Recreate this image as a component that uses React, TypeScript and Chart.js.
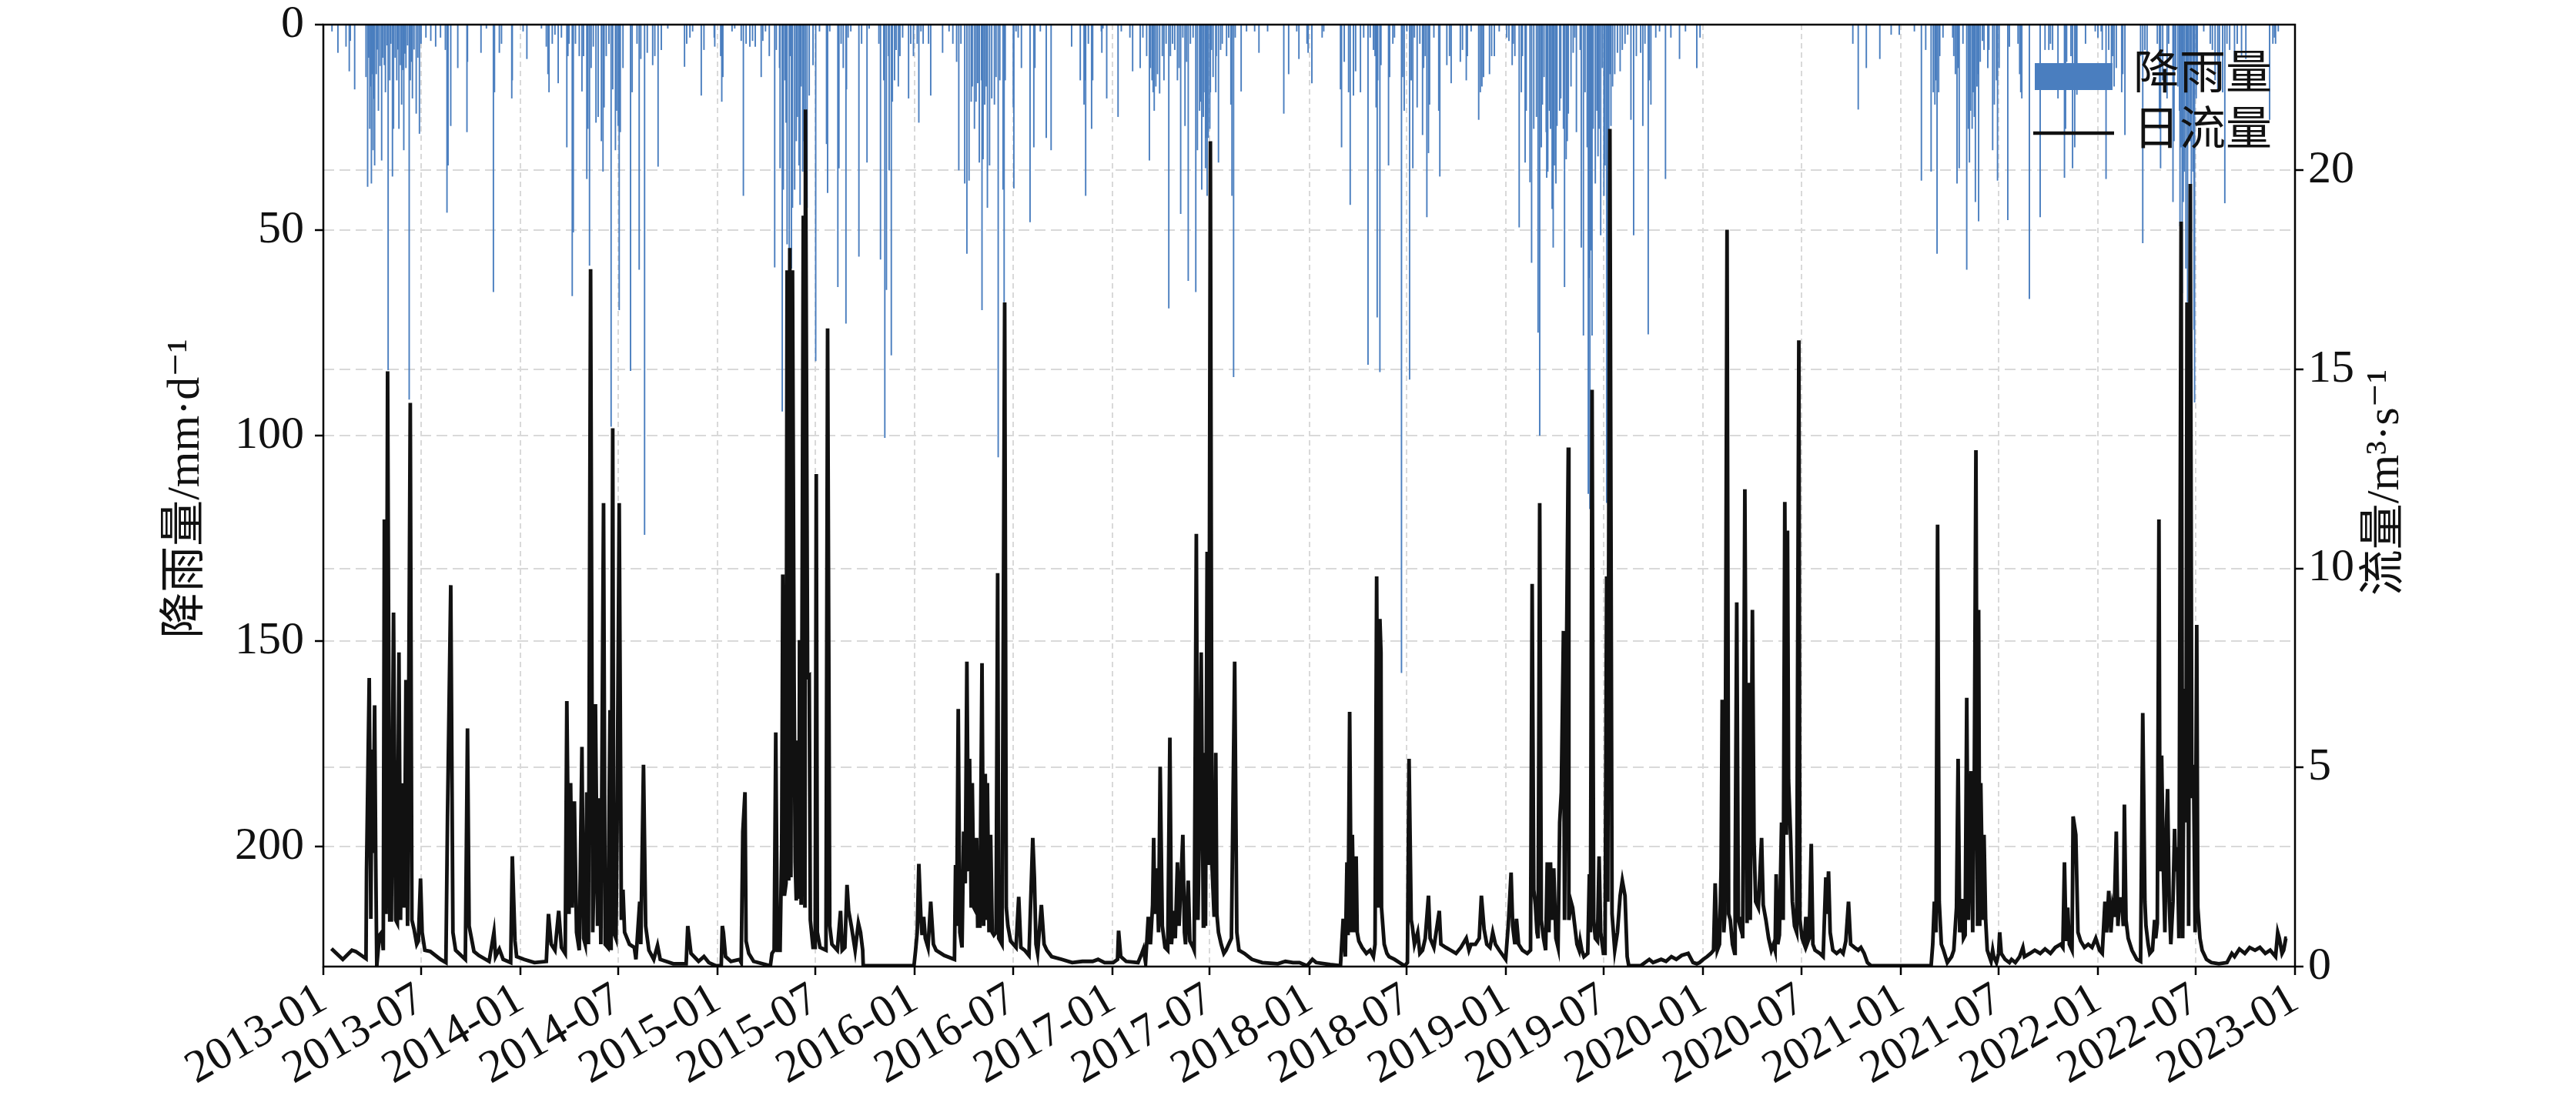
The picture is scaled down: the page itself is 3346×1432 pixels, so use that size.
import React, { useEffect, useRef } from 'react';
import { Chart, registerables } from 'chart.js';

Chart.register(...registerables);

// ---------------- DATA ----------------
// daily flow (m3/s): [day of year (0 = Jan 1), value]
const flow2013 = [[15,0.45],[36,0.18],[53,0.41],[60,0.38],[79,0.2],[80,2.39],[85,7.25],[88,1.2],[90,5.45],[92,2.85],[95,6.56],[97,2.7],[99,0.02],[104,0.79],[108,0.86],[111,0.41],[113,11.23],[116,1.32],[119,14.95],[123,1.17],[126,1.17],[130,8.89],[134,1.17],[137,1.09],[140,7.89],[143,1.17],[145,4.56],[149,4.56],[150,1.48],[153,7.2],[156,1.02],[161,14.16],[164,1.17],[168,0.94],[173,0.56],[176,0.64],[180,2.21],[183,0.86],[188,0.41],[198,0.38],[217,0.18],[227,0.1],[230,3.77],[236,9.58],[240,0.86],[245,0.41],[263,0.18],[267,5.98],[270,1.02],[279,0.38],[288,0.28],[307,0.13],[316,0.86],[319,0.25],[326,0.44],[333,0.18],[347,0.1],[350,2.77],[355,0.64],[358,0.25]];
const flow2014 = [[7,0.18],[26,0.1],[48,0.13],[52,1.32],[57,0.56],[64,0.41],[71,1.4],[76,0.48],[83,0.33],[86,6.67],[90,1.32],[93,4.61],[96,1.48],[100,4.15],[104,0.86],[109,0.41],[114,5.52],[117,0.71],[120,0.56],[123,4.38],[126,0.56],[130,17.52],[134,0.86],[136,2.16],[139,6.59],[143,1.02],[146,4.23],[149,0.56],[154,11.64],[157,0.56],[162,0.48],[166,6.44],[168,0.41],[171,13.52],[173,0.86],[177,0.71],[179,3.39],[183,11.64],[187,1.17],[190,1.93],[193,0.86],[202,0.56],[211,0.48],[214,0.18],[221,1.63],[223,0.56],[228,5.07],[232,1.02],[238,0.41],[247,0.18],[254,0.53],[259,0.18],[283,0.07],[307,0.07],[310,1.02],[316,0.33],[330,0.13],[340,0.25],[349,0.1],[362,0.02]];
const flow2015 = [[7,0.02],[9,1.02],[11,0.86],[15,0.25],[25,0.13],[41,0.18],[44,0.1],[47,3.39],[51,4.38],[53,0.64],[58,0.33],[67,0.13],[98,0.02],[101,0.33],[105,0.41],[108,5.88],[111,0.41],[116,0.41],[119,3.0],[121,9.85],[124,1.78],[127,2.09],[129,17.49],[132,2.16],[134,18.05],[136,2.24],[139,17.49],[142,7.13],[144,2.62],[146,1.66],[148,5.68],[151,1.7],[152,8.2],[155,1.55],[159,18.86],[162,1.48],[163,21.53],[167,7.28],[170,7.31],[172,1.17],[177,0.48],[181,0.48],[183,12.37],[185,0.86],[190,0.48],[201,0.41],[204,16.03],[208,1.02],[212,0.56],[222,0.41],[228,1.4],[231,0.41],[236,0.48],[240,2.05],[243,1.4],[248,1.02],[255,0.41],[261,1.09],[265,0.86],[269,0.41],[270,0.02],[364,0.02]];
const flow2016 = [[0,0.02],[2,0.41],[5,0.86],[8,2.58],[12,1.17],[14,0.79],[17,1.25],[20,0.71],[25,0.48],[30,1.63],[35,0.56],[40,0.41],[55,0.28],[74,0.18],[76,2.55],[78,1.02],[81,6.47],[84,0.86],[88,0.48],[91,3.39],[94,2.09],[97,7.66],[100,2.39],[102,5.22],[105,1.48],[107,4.61],[110,1.48],[113,1.4],[115,3.23],[117,1.02],[121,1.02],[125,7.62],[128,1.02],[131,4.84],[134,1.17],[135,4.61],[138,0.86],[141,3.31],[144,0.86],[147,0.79],[151,0.86],[154,9.88],[156,0.71],[162,0.56],[167,16.68],[170,1.48],[173,1.02],[178,0.64],[183,0.56],[188,0.48],[193,1.75],[197,0.48],[204,0.41],[212,0.28],[219,3.23],[222,2.24],[225,0.56],[228,0.33],[235,1.55],[240,0.56],[245,0.41],[254,0.25],[273,0.18],[292,0.1],[311,0.13],[330,0.13],[340,0.18],[352,0.1]];
const flow2017 = [[2,0.1],[10,0.18],[12,0.9],[16,0.25],[26,0.13],[48,0.1],[55,0.33],[58,0.44],[62,0.1],[67,1.25],[71,0.56],[75,1.55],[77,3.23],[79,1.32],[83,2.47],[86,0.86],[89,5.02],[93,1.02],[98,0.48],[103,0.41],[107,5.75],[110,0.56],[114,1.4],[117,0.71],[121,2.62],[124,1.02],[127,1.93],[131,3.31],[134,0.86],[136,0.56],[141,2.16],[144,0.64],[150,0.48],[152,0.41],[156,10.87],[159,1.17],[162,3.77],[165,7.89],[169,1.02],[170,5.37],[173,1.02],[176,10.42],[179,2.55],[182,20.73],[185,2.55],[189,1.25],[192,5.37],[194,1.32],[197,0.86],[202,0.56],[207,0.33],[211,0.41],[216,0.56],[221,0.71],[227,7.66],[231,0.86],[235,0.41],[245,0.33],[259,0.18],[278,0.1],[307,0.07],[321,0.13],[335,0.1],[347,0.1],[361,0.02]];
const flow2018 = [[6,0.18],[13,0.1],[39,0.05],[58,0.02],[63,1.2],[67,0.25],[70,2.62],[72,0.79],[75,6.4],[78,0.86],[80,3.31],[83,0.86],[87,2.77],[89,0.86],[92,0.64],[98,0.48],[106,0.33],[113,0.41],[119,0.25],[122,0.56],[125,9.8],[128,1.48],[131,8.73],[133,7.89],[134,1.48],[139,0.56],[144,0.33],[148,0.25],[158,0.18],[167,0.1],[177,0.02],[182,0.1],[185,5.22],[189,1.17],[191,1.02],[195,0.56],[201,0.86],[205,0.33],[210,0.41],[215,0.71],[221,1.78],[224,0.71],[231,0.48],[241,1.4],[244,0.56],[253,0.48],[262,0.41],[272,0.33],[281,0.48],[291,0.71],[296,0.41],[300,0.56],[308,0.56],[315,0.71],[319,1.78],[324,0.94],[329,0.56],[335,0.48],[340,0.86],[345,0.56],[352,0.41],[364,0.18]];
const flow2019 = [[4,1.09],[9,2.36],[12,1.02],[16,0.56],[19,1.2],[23,0.56],[30,0.41],[39,0.33],[45,0.41],[48,9.61],[51,1.93],[54,1.55],[57,0.86],[59,0.71],[62,11.64],[65,1.17],[69,0.71],[73,0.41],[76,2.62],[79,0.86],[82,2.62],[85,1.17],[88,2.47],[92,0.71],[96,0.48],[99,3.62],[102,4.38],[106,8.43],[108,1.17],[112,8.35],[115,13.04],[116,1.17],[120,1.63],[123,1.48],[127,1.02],[131,0.56],[135,0.41],[137,0.64],[140,0.41],[144,0.25],[151,0.33],[154,2.32],[156,0.86],[159,14.49],[162,1.17],[165,0.71],[169,0.64],[172,2.77],[175,0.86],[180,0.33],[183,0.33],[186,9.8],[188,1.63],[192,21.04],[196,1.32],[201,0.41],[206,0.86],[211,1.78],[215,2.16],[220,1.78],[224,0.25],[227,0.02],[249,0.02],[265,0.18],[272,0.1],[287,0.18],[296,0.13],[306,0.25],[315,0.18],[325,0.28],[337,0.33],[346,0.1],[353,0.07],[358,0.1]];
const flow2020 = [[0,0.18],[7,0.25],[14,0.33],[19,0.41],[22,2.09],[26,0.41],[30,0.56],[33,2.47],[35,6.7],[38,0.86],[40,1.32],[44,18.51],[47,1.32],[50,1.17],[54,0.56],[58,0.33],[59,2.09],[62,9.15],[65,1.17],[68,1.02],[70,1.25],[73,0.71],[77,11.99],[81,1.09],[84,7.13],[87,1.17],[91,8.96],[94,3.16],[97,1.63],[102,1.48],[108,3.23],[111,1.55],[116,1.17],[121,0.71],[126,0.41],[130,0.56],[133,0.41],[135,2.32],[138,0.56],[141,0.79],[145,3.62],[148,1.17],[151,11.67],[154,3.31],[156,10.95],[158,4.68],[162,3.16],[165,1.63],[169,1.02],[173,0.86],[177,15.73],[179,1.17],[183,0.71],[187,0.56],[190,1.25],[192,0.56],[196,0.71],[200,3.08],[203,0.56],[207,0.41],[216,0.33],[222,0.25],[227,2.24],[229,1.32],[232,2.39],[235,0.86],[240,0.41],[247,0.33],[254,0.41],[259,0.33],[264,0.64],[269,1.63],[273,0.56],[280,0.48],[287,0.41],[292,0.48],[298,0.33],[304,0.1],[311,0.02],[365,0.02]];
const flow2021 = [[0,0.02],[56,0.02],[59,0.56],[62,1.63],[65,0.86],[68,11.1],[71,1.63],[75,0.56],[79,0.41],[86,0.1],[94,0.25],[98,0.41],[103,1.48],[106,5.22],[109,0.86],[113,1.7],[116,0.71],[119,0.79],[122,6.75],[125,1.17],[127,2.7],[130,4.91],[133,0.86],[136,4.68],[139,12.97],[142,1.02],[144,8.96],[146,1.02],[148,4.61],[152,1.17],[154,3.31],[157,1.17],[160,0.41],[167,0.13],[170,0.41],[172,0.25],[177,0.1],[181,0.33],[183,0.86],[186,0.33],[193,0.18],[201,0.1],[205,0.18],[212,0.1],[220,0.25],[226,0.48],[229,0.25],[239,0.33],[248,0.41],[258,0.33],[267,0.44],[277,0.33],[286,0.48],[296,0.56],[300,0.48],[303,2.62],[306,0.64],[309,1.48],[312,0.56],[317,0.41],[319,3.77],[322,3.5],[324,3.31],[328,0.86],[333,0.64],[340,0.48],[347,0.56],[354,0.48],[361,0.71]];
const flow2022 = [[3,0.41],[8,0.33],[13,1.63],[16,0.86],[20,1.9],[24,0.86],[27,1.48],[30,1.25],[34,3.39],[37,1.02],[40,1.7],[44,1.7],[47,1.02],[49,4.07],[52,1.17],[56,0.71],[63,0.41],[72,0.18],[79,0.13],[83,6.37],[87,1.63],[89,1.02],[93,0.56],[96,0.33],[101,0.41],[105,1.17],[107,0.71],[110,1.09],[113,11.23],[115,2.39],[118,5.3],[121,2.55],[124,0.86],[127,3.62],[129,4.46],[132,1.63],[135,0.56],[139,1.63],[142,3.46],[144,2.39],[147,3.0],[150,0.71],[154,18.71],[157,0.71],[160,6.98],[163,3.62],[165,16.68],[168,1.02],[171,19.66],[174,4.23],[177,5.07],[180,0.86],[183,8.58],[185,1.48],[189,0.71],[193,0.41],[201,0.18],[210,0.1],[224,0.07],[239,0.1],[248,0.33],[253,0.25],[262,0.44],[272,0.33],[281,0.48],[291,0.41],[300,0.48],[310,0.33],[319,0.41],[329,0.25],[333,0.86],[336,0.71],[341,0.33],[344,0.41],[348,0.71],[350,0.71]];

// daily rainfall (mm/d): [day of year, value]
const rain2013 = [[16,1.6],[27,6.8],[42,5.3],[48,11.3],[50,3.9],[58,15.7],[79,12.7],[82,39.4],[84,8],[86,25.3],[87,15],[89,38.6],[91,12],[92,30.5],[94,18],[95,34.2],[98,12],[100,6],[102,20.9],[105,10],[108,33],[110,8],[113,9.8],[115,16.4],[118,5],[120,84],[123,13.5],[125,4.6],[128,36.9],[130,25.3],[133,8],[136,13.5],[138,6],[140,25.3],[143,9.8],[145,19.4],[147,11],[149,30.5],[151,7],[153,10.5],[156,5],[159,91.2],[161,13.5],[163,9],[165,17.9],[168,6],[172,21.6],[175,8],[178,26.5],[181,4.6],[190,3.1],[199,3.9],[208,5.3],[217,3.1],[226,6.1],[229,45.7],[231,34.2],[236,24.6],[249,10.5],[266,26.1],[267,9],[292,6.8],[302,0.9],[315,65],[317,16.4],[326,6.8],[330,4.6],[349,17.9],[350,13.5]];
const rain2014 = [[5,1.6],[12,8.3],[39,0.9],[48,5.3],[51,12],[53,16.4],[59,4.6],[64,2.4],[70,14.2],[76,3.1],[86,29.8],[88,7.6],[90,4.6],[96,66],[98,50.5],[102,4.6],[109,7.6],[114,16.2],[117,7.6],[123,37.5],[125,25.3],[128,58.6],[131,10.5],[135,5.3],[140,23.8],[144,22.4],[150,28.3],[153,35.7],[155,20.1],[159,7.6],[164,4.6],[168,97.8],[171,15.7],[176,30.5],[178,20.9],[181,24.6],[183,69.4],[185,26.1],[190,10.5],[204,84.2],[207,16.4],[216,4.6],[220,59.6],[223,8.3],[230,124.1],[235,6.8],[245,9.8],[249,7.6],[255,34.5],[261,6.1],[273,0.9],[304,10.2],[308,4.6],[314,3.1],[319,1.6],[335,17.2],[340,6.1],[359,3.1],[360,5.3]];
const rain2015 = [[6,7.6],[8,18.7],[10,12.7],[27,1.6],[32,0.9],[44,3.9],[48,41.6],[53,4.6],[60,5.3],[65,3.9],[70,5.3],[81,12.7],[84,3.9],[89,1.6],[96,7.6],[106,59],[109,6.1],[115,10.5],[116,34.9],[120,94.1],[122,40.1],[125,13.5],[127,23.8],[129,53.4],[133,57.9],[135,7.6],[137,59.3],[139,44.5],[143,40.1],[146,28.3],[148,22.4],[151,34.2],[153,43.8],[155,15],[158,35.7],[160,28.3],[163,20.6],[166,44.5],[170,17.2],[177,9.8],[182,81.8],[189,1.6],[202,29],[204,40.9],[208,1.6],[223,63.8],[225,34.9],[229,4.6],[233,10.5],[238,72.7],[239,15.7],[242,3.1],[247,1.6],[262,56.4],[267,4.6],[277,33.5],[281,0.9],[299,4.6],[302,57.1],[308,13.5],[310,100.5],[313,64.5],[317,7.6],[318,35.4],[322,80.4],[324,18.7],[328,13.5],[331,6.1],[335,15],[338,7.6],[343,3.1],[354,17.9],[358,4.6],[363,7.6]];
const rain2016 = [[5,4.6],[8,23.8],[12,1.6],[16,4.6],[26,4.6],[30,17.2],[52,6.8],[64,1.6],[71,4.6],[78,9],[82,35.4],[86,4.6],[93,38.6],[97,55.7],[101,37.9],[105,18.7],[107,15],[111,25.3],[114,18.7],[117,14.2],[120,33.5],[124,13.5],[125,69.4],[127,32.7],[130,19.4],[133,15],[135,44.5],[139,34.2],[143,17.9],[148,19.4],[151,12.7],[155,105.2],[158,13.5],[164,40.1],[166,67.5],[168,13.5],[183,20.1],[184,39.8],[188,1.6],[192,3.1],[198,10.5],[214,48],[221,29.8],[223,10.5],[233,1.6],[244,27.5],[253,30.5],[291,5.3],[307,13.5],[314,19.4],[316,13.5],[317,41.6],[322,4.6],[328,25.3],[330,13.5],[346,1.6],[347,6.8],[349,0.9],[356,17.9]];
const rain2017 = [[11,22.4],[17,1.6],[33,3.1],[38,11.3],[52,10.5],[57,3.1],[64,7.6],[69,33],[71,10.5],[74,13.5],[76,16.4],[78,20.9],[81,15],[84,12],[88,16.7],[93,7.6],[96,13.5],[100,4.6],[105,69],[108,7.6],[112,4.6],[116,6.1],[121,13.5],[124,10.5],[127,46],[131,3.1],[135,24.6],[138,9],[141,62.3],[145,4.6],[150,3.1],[155,65],[158,30.5],[162,20.9],[164,18.7],[166,40.1],[169,22.4],[170,16.4],[173,34.9],[174,27.5],[176,41.6],[178,27.5],[181,25.3],[182,16.4],[184,6.1],[187,12.7],[192,16.4],[193,7.6],[197,33.5],[201,6.1],[204,4.6],[212,7.6],[216,3.1],[220,19.4],[222,41.6],[225,85.7],[228,3.1],[239,16.2],[249,1.6],[264,1.6],[272,6.8],[288,1.6],[318,21.6],[327,12],[342,1.6],[346,8.3],[361,4.6],[363,6.8]];
const rain2018 = [[5,14.2],[24,3.1],[27,1.6],[58,15.7],[60,29.8],[65,9],[73,16.4],[76,43.8],[82,17.2],[86,11.3],[95,16.4],[101,3.1],[109,82.7],[113,3.1],[119,6.1],[122,7.6],[124,20.1],[126,71.2],[127,13.5],[131,84.5],[133,9.8],[147,34.2],[149,12.7],[155,4.6],[158,3.1],[171,157.7],[173,12.7],[176,20.9],[181,1.6],[186,86.3],[189,13.5],[192,34.9],[195,3.1],[200,20.1],[205,4.6],[210,26.8],[212,10.5],[215,7.6],[218,46.8],[221,31.2],[223,19.4],[231,3.1],[240,20.9],[242,36.9],[255,9.8],[260,7.6],[263,14.2],[280,9],[284,6.1],[291,13.5],[293,7.6],[300,1.6],[314,23.1],[317,16.4],[320,15],[323,12.7],[334,12],[338,7.6],[343,7.6],[352,1.6]];
const rain2019 = [[1,3.1],[5,3.9],[11,9.8],[13,4.6],[16,7.6],[24,49.3],[28,16.4],[30,7.6],[35,33.5],[37,20.9],[44,38.3],[47,57.9],[51,25.3],[56,22.4],[59,74.9],[62,100],[65,29.8],[67,19.4],[70,12.7],[74,26.1],[75,37.2],[77,35.7],[80,20.9],[82,25.3],[85,44.8],[87,54.2],[89,34.2],[92,38.6],[94,24.6],[99,20.9],[101,17.9],[106,25.3],[108,63.8],[111,32.7],[113,28.3],[115,21.6],[120,15],[124,6.8],[127,3.1],[130,26.1],[137,6.1],[139,54.2],[143,75.6],[146,16.4],[150,29.8],[152,114.1],[154,61.6],[155,117.8],[157,54.9],[159,75.6],[161,25.3],[165,38.6],[168,20.9],[170,32],[172,25.3],[175,51.2],[178,10.5],[181,41.6],[183,34.2],[186,116.3],[188,106],[190,28.3],[192,12],[194,24.6],[197,15],[201,12],[206,6.8],[211,11.3],[215,6.1],[220,4.6],[225,2.4],[231,23.1],[236,51.2],[241,7.6],[249,6.8],[253,24.6],[257,4.6],[263,75.3],[265,13.5],[268,19.4],[277,3.1],[284,1.6],[295,37.5],[305,3.1],[321,8.3],[332,1.6],[353,10.5],[359,3.1]];
const rain2020 = [[277,4.6],[287,20.6],[302,10.5],[327,8.3],[348,2.4],[363,2.4]];
const rain2021 = [[25,1.6],[38,37.9],[46,6.1],[56,35.7],[60,16.4],[63,19.4],[65,13.5],[67,55.7],[70,16.4],[72,7.6],[78,3.1],[96,3.1],[98,7.6],[101,12],[104,38.6],[106,10.5],[108,34.9],[115,4.6],[122,59.6],[125,25.3],[127,33.5],[129,20.9],[132,25.3],[134,16.4],[136,22.4],[138,43.1],[141,15],[143,12],[144,47.8],[147,9],[151,3.9],[154,6.1],[161,10.5],[163,6.1],[170,30.5],[173,19.4],[177,13.5],[179,37.9],[182,10.5],[198,47.5],[201,5.3],[217,4.6],[220,12],[222,16.4],[224,17.9],[238,66.7],[258,46.8],[267,6.1],[274,6.1],[277,4.6],[281,6.1],[291,17.9],[303,37.2],[305,25.3],[307,9],[315,7.6],[318,34.9],[322,29.8],[324,13.5],[326,17],[342,4.6],[360,1.6]];
const rain2022 = [[0,3.1],[6,1.6],[8,6.1],[15,37.5],[20,6.1],[25,10.5],[27,7.6],[30,15],[34,10.5],[44,16.4],[46,12],[50,26.8],[79,7.6],[83,53.1],[87,6.1],[91,7.6],[110,4.6],[114,25.3],[116,34.9],[120,13.5],[128,17.9],[131,4.6],[139,43.1],[141,28.3],[144,10.5],[148,15],[151,20.9],[152,49],[154,29.8],[156,65.3],[158,43.1],[160,35.7],[163,59.3],[165,20.9],[166,67.5],[168,28.3],[171,28.3],[173,50.5],[176,35.7],[178,74.2],[179,91.9],[182,17.9],[184,13.5],[196,1.6],[208,4.6],[212,6.1],[217,13.5],[222,16.4],[225,15],[231,16.4],[235,43.4],[239,4.6],[244,6.1],[253,9],[258,4.6],[266,7.6],[274,8.3],[318,23.1],[324,4.6],[327,3.1],[329,4.6],[334,1.6]];

const years = [2013, 2014, 2015, 2016, 2017, 2018, 2019, 2020, 2021, 2022];
const flowByYear = [flow2013, flow2014, flow2015, flow2016, flow2017, flow2018, flow2019, flow2020, flow2021, flow2022];
const rainByYear = [rain2013, rain2014, rain2015, rain2016, rain2017, rain2018, rain2019, rain2020, rain2021, rain2022];

const xTickLabels = ['2013-01','2013-07','2014-01','2014-07','2015-01','2015-07','2016-01','2016-07','2017-01','2017-07','2018-01','2018-07','2019-01','2019-07','2020-01','2020-07','2021-01','2021-07','2022-01','2022-07','2023-01'];
const rainTicks = [0, 50, 100, 150, 200];
const flowTicks = [0, 5, 10, 15, 20];

const rainLabel = '降雨量';
const flowLabel = '日流量';
const leftTitle = '降雨量/mm·d⁻¹';
const rightTitle = '流量/m³·s⁻¹';

// ---------------- helpers ----------------
const DAY = 86400000;
const T0 = Date.UTC(2013, 0, 1);
const dayIndex = (y: number, doy: number) => (Date.UTC(y, 0, 1) - T0) / DAY + doy;
const xTickValues = xTickLabels.map((l) => {
  const [y, m] = l.split('-').map(Number);
  return (Date.UTC(y, m - 1, 1) - T0) / DAY;
});
const X_MAX = xTickValues[xTickValues.length - 1];

const SERIF = '"Liberation Serif", "DejaVu Serif", "Noto Sans CJK SC", serif';
const RAIN_COLOR = '#4a7ebf';
const GRID = '#d9d9d9';

export default function App() {
  const ref = useRef<HTMLCanvasElement>(null);

  useEffect(() => {
    const canvas = ref.current;
    if (!canvas) return;

    const flowPts: any[] = [];
    const rainPts: any[] = [];
    years.forEach((y, i) => {
      flowByYear[i].forEach(([d, v]) => flowPts.push({ x: dayIndex(y, d), y: v }));
      rainByYear[i].forEach(([d, v]) => rainPts.push({ x: dayIndex(y, d), y: v }));
    });
    flowPts.sort((a, b) => a.x - b.x);
    rainPts.sort((a, b) => a.x - b.x);

    const overlay = {
      id: 'overlay',
      afterDatasetsDraw(chart: any) {
        const { ctx, chartArea: a } = chart;
        ctx.save();
        ctx.strokeStyle = '#000';
        ctx.lineWidth = 2.5;
        ctx.strokeRect(a.left, a.top, a.right - a.left, a.bottom - a.top);

        // legend (inside, upper right)
        ctx.fillStyle = RAIN_COLOR;
        ctx.fillRect(2643, 82, 101, 35);
        ctx.strokeStyle = '#111';
        ctx.lineWidth = 4.5;
        ctx.beginPath();
        ctx.moveTo(2641, 173);
        ctx.lineTo(2746, 173);
        ctx.stroke();
        ctx.fillStyle = '#111';
        ctx.font = `60px ${SERIF}`;
        ctx.textAlign = 'left';
        ctx.textBaseline = 'middle';
        ctx.fillText(rainLabel, 2771, 99);
        ctx.fillText(flowLabel, 2771, 172);
        ctx.restore();
      },
      afterDraw(chart: any) {
        const { ctx } = chart;
        ctx.save();
        ctx.fillStyle = '#111';
        ctx.font = `60px ${SERIF}`;
        ctx.textAlign = 'center';
        ctx.textBaseline = 'middle';
        ctx.translate(242, 635);
        ctx.rotate(-Math.PI / 2);
        ctx.fillText(leftTitle, 0, 0);
        ctx.restore();
        ctx.save();
        ctx.fillStyle = '#111';
        ctx.font = `60px ${SERIF}`;
        ctx.textAlign = 'center';
        ctx.textBaseline = 'middle';
        ctx.translate(3099, 627);
        ctx.rotate(-Math.PI / 2);
        ctx.fillText(rightTitle, 0, 0);
        ctx.restore();
      },
    };

    const tickFont = { family: SERIF, size: 60, lineHeight: 1 };
    const zeroV = (s: any) => {
      s.paddingTop = 0;
      s.paddingBottom = 0;
    };

    const chart = new Chart(canvas, {
      type: 'bar',
      data: {
        datasets: [
          {
            type: 'line',
            label: flowLabel,
            data: flowPts,
            xAxisID: 'x',
            yAxisID: 'yFlow',
            borderColor: '#111111',
            borderWidth: 4.8,
            pointRadius: 0,
            tension: 0,
            order: 0,
          } as any,
          {
            type: 'bar',
            label: rainLabel,
            data: rainPts,
            xAxisID: 'x',
            yAxisID: 'yRain',
            backgroundColor: RAIN_COLOR,
            borderWidth: 0,
            barThickness: 1.25,
            order: 1,
          } as any,
        ],
      },
      options: {
        animation: false,
        responsive: false,
        devicePixelRatio: 1,
        layout: { padding: { top: 32, left: 0, right: 0, bottom: 0 } },
        plugins: { legend: { display: false }, tooltip: { enabled: false } },
        scales: {
          x: {
            type: 'linear',
            position: 'bottom',
            min: 0,
            max: X_MAX,
            offset: false,
            afterBuildTicks: (s: any) => {
              s.ticks = xTickValues.map((v) => ({ value: v }));
            },
            afterFit: (s: any) => {
              s.height = 176;
              s.paddingLeft = 0;
              s.paddingRight = 0;
            },
            ticks: {
              autoSkip: false,
              minRotation: 30,
              maxRotation: 30,
              padding: 2,
              color: '#111',
              font: tickFont,
              callback: (_v: any, i: number) => xTickLabels[i],
            },
            grid: { color: GRID, lineWidth: 2, tickColor: '#000', tickLength: 11, tickWidth: 2.5, tickBorderDash: [], offset: false },
            border: { display: false, dash: [7, 5] },
          },
          yRain: {
            type: 'linear',
            position: 'left',
            reverse: true,
            min: 0,
            max: 229.2,
            afterBuildTicks: (s: any) => {
              s.ticks = rainTicks.map((v) => ({ value: v }));
            },
            afterFit: (s: any) => {
              s.width = 420;
              zeroV(s);
            },
            ticks: { padding: 14, color: '#111', font: tickFont },
            grid: { color: GRID, lineWidth: 2, tickColor: '#000', tickLength: 11, tickWidth: 2.5, tickBorderDash: [] },
            border: { display: false, dash: [14, 7] },
          },
          yFlow: {
            type: 'linear',
            position: 'right',
            min: 0,
            max: 23.66,
            afterBuildTicks: (s: any) => {
              s.ticks = flowTicks.map((v) => ({ value: v }));
            },
            afterFit: (s: any) => {
              s.width = 365;
              zeroV(s);
            },
            ticks: { padding: 6, color: '#111', font: tickFont },
            grid: { color: GRID, lineWidth: 2, tickColor: '#000', tickLength: 11, tickWidth: 2.5, tickBorderDash: [] },
            border: { display: false, dash: [14, 7] },
          },
        },
      } as any,
      plugins: [overlay],
    });

    return () => chart.destroy();
  }, []);

  return (
    <div style={{ position: 'fixed', left: 0, top: 0, width: 3346, height: 1432, background: '#fff' }}>
      <canvas ref={ref} width={3346} height={1432} style={{ width: 3346, height: 1432, display: 'block' }} />
    </div>
  );
}
